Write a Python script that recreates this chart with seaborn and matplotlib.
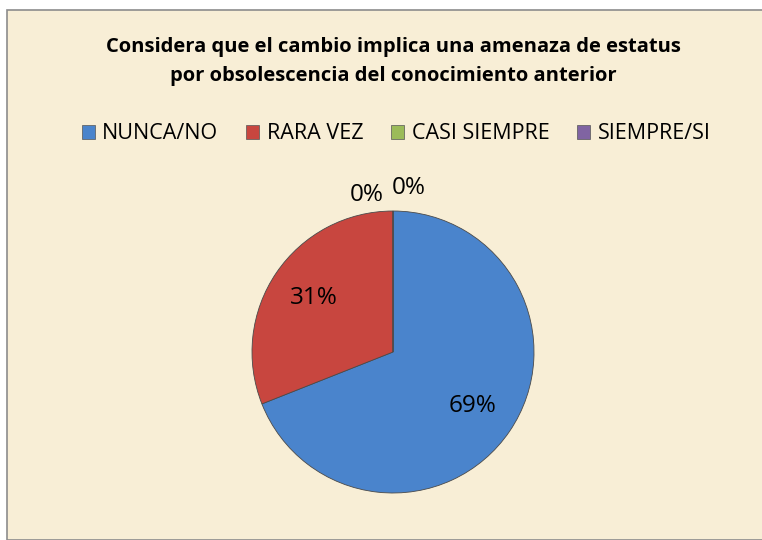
import numpy as np
import matplotlib
matplotlib.use("Agg")
import matplotlib.pyplot as plt
import matplotlib.patches as mpatches
import seaborn as sns

# data
categories = ["NUNCA/NO", "RARA VEZ", "CASI SIEMPRE", "SIEMPRE/SI"]
values = [69, 31, 0, 0]
colors = ["#4a84cc", "#c8463f", "#9bbb59", "#8064a2"]
title = "Considera que el cambio implica una amenaza de estatus\npor obsolescencia del conocimiento anterior"

sns.set_theme(style="white")
plt.rcParams["font.family"] = ["Liberation Sans Narrow", "Open Sans", "DejaVu Sans"]
plt.rcParams["text.color"] = "black"

fig = plt.figure(figsize=(7.62, 5.4), dpi=100)
fig.patch.set_facecolor("white")

# parchment chart area with grey frame
bg = mpatches.Rectangle((7 / 762, 0), 1.0, (540 - 10) / 540, transform=fig.transFigure,
                        facecolor="#f8eed6", edgecolor="#8c8c8c", linewidth=1.2, zorder=-5)
fig.patches.append(bg)

fig.text(0.516, 0.886, title, ha="center", va="center", fontsize=14.5,
         fontweight="bold", color="black", linespacing=1.6)

ax = fig.add_axes([(393 - 141) / 762, (540 - 493) / 540, 282 / 762, 282 / 540])
ax.set_facecolor("none")
ax.set_zorder(2)
wedges, texts = ax.pie(values, colors=colors, startangle=90, counterclock=False,
                       radius=1.0, wedgeprops=dict(edgecolor="#4a4a4a", linewidth=0.6))

# percentage labels; the empty slices get pushed outside the pie, either side of 12 o'clock
total = sum(values)
angle = 90.0
zero_labels = iter([(99.5, 1.13), (84.5, 1.17)])
for v in values:
    span = 360.0 * v / total
    if v > 0:
        mid = np.deg2rad(angle - span / 2)
        r = 0.68
    else:
        a, r = next(zero_labels)
        mid = np.deg2rad(a)
    ax.text(r * np.cos(mid), r * np.sin(mid), f"{v}%", ha="center", va="center",
            fontsize=17.5, color="black")
    angle -= span

ax.set_xlim(-1, 1)
ax.set_ylim(-1, 1)
ax.set_aspect("equal")
ax.axis("off")

handles = [mpatches.Patch(facecolor=c, edgecolor="#555555", linewidth=0.5) for c in colors]
fig.legend(handles, categories, loc="center", bbox_to_anchor=(0.52, 0.752), ncol=4,
           frameon=False, fontsize=15.5, handlelength=0.6, handleheight=0.6,
           handletextpad=0.35, columnspacing=1.3, labelcolor="black")

fig.savefig("out.png", dpi=100, facecolor=fig.get_facecolor())
